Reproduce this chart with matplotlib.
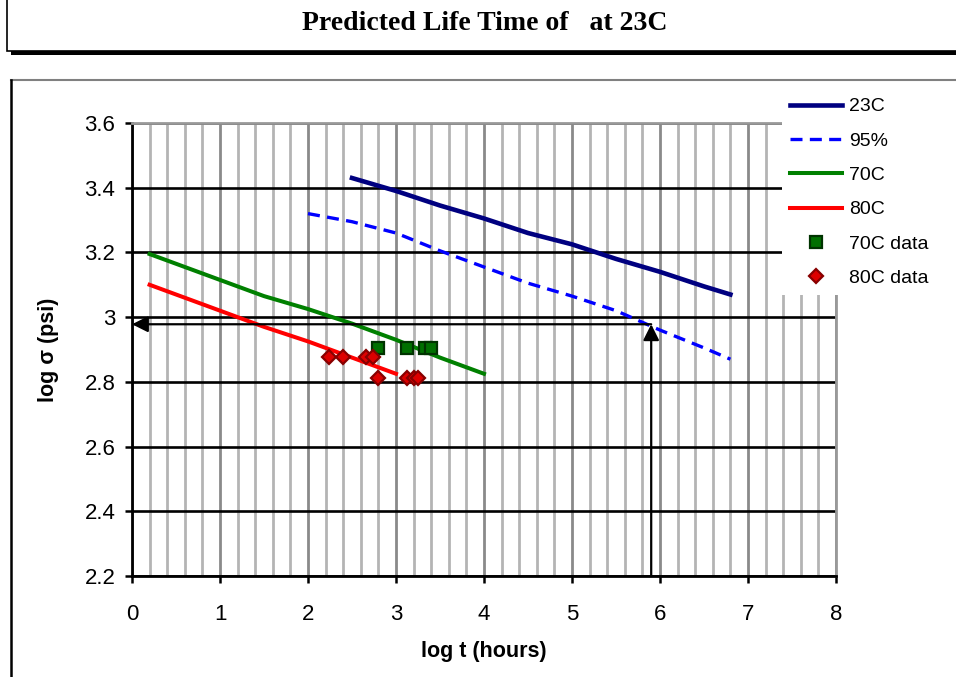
import matplotlib
matplotlib.use("Agg")
import matplotlib.pyplot as plt
from matplotlib.lines import Line2D
from matplotlib.patches import Rectangle
from matplotlib.ticker import MultipleLocator, FuncFormatter

# ---- data ----
t_23c = [2.5, 3.0, 3.5, 4.0, 4.5, 5.0, 5.5, 6.0, 6.5, 6.8]
s_23c = [3.43, 3.39, 3.345, 3.305, 3.26, 3.225, 3.18, 3.14, 3.095, 3.07]

t_95 = [2.0, 2.5, 3.0, 3.5, 4.0, 4.5, 5.0, 5.5, 6.0, 6.5, 6.8]
s_95 = [3.32, 3.295, 3.26, 3.205, 3.155, 3.105, 3.065, 3.02, 2.96, 2.905, 2.87]

t_70c = [0.2, 0.5, 1.0, 1.5, 2.0, 2.5, 3.0, 3.5, 4.0]
s_70c = [3.195, 3.165, 3.115, 3.065, 3.025, 2.98, 2.93, 2.875, 2.825]

t_80c = [0.2, 0.5, 1.0, 1.5, 2.0, 2.5, 3.0]
s_80c = [3.10, 3.07, 3.02, 2.97, 2.925, 2.875, 2.825]

t_70c_data = [2.80, 3.13, 3.33, 3.40]
s_70c_data = [2.905, 2.905, 2.905, 2.905]

t_80c_data = [2.24, 2.40, 2.66, 2.74, 2.79, 3.12, 3.20, 3.25]
s_80c_data = [2.878, 2.878, 2.878, 2.878, 2.813, 2.813, 2.813, 2.813]

# predicted point (95% line at log sigma ~ 2.98)
pred_t = 5.9
pred_s = 2.978

x_ticks = [0, 1, 2, 3, 4, 5, 6, 7, 8]
y_ticks = [2.2, 2.4, 2.6, 2.8, 3.0, 3.2, 3.4, 3.6]

W, H = 956, 677

def fx(px):
    return px / W

def fy(py):
    return 1 - py / H

fig = plt.figure(figsize=(W / 100, H / 100), dpi=100)
plt.rcParams['font.family'] = ['Liberation Sans', 'DejaVu Sans']

# title box with shadow
fig.add_artist(Rectangle((fx(11), fy(55)), fx(1000), fy(-10) - fy(55),
                         transform=fig.transFigure, facecolor='black', edgecolor='none'))
fig.add_artist(Rectangle((fx(7), fy(51)), fx(1000), fy(-10) - fy(51),
                         transform=fig.transFigure, facecolor='white', edgecolor='black', lw=1.2))
fig.text(fx(485), fy(23), 'Predicted Life Time of   at 23C', ha='center', va='center',
         fontsize=20, fontweight='bold', family=['Liberation Serif', 'DejaVu Serif'])

# chart area frame
fig.add_artist(Line2D([fx(11), fx(960)], [fy(80), fy(80)], transform=fig.transFigure,
                      color='#808080', lw=1.5))
fig.add_artist(Line2D([fx(11), fx(11)], [fy(80), fy(700)], transform=fig.transFigure,
                      color='black', lw=1.8))

ax = fig.add_axes([fx(132), fy(576), fx(836) - fx(132), fy(123) - fy(576)])
ax.set_xlim(0, 8)
ax.set_ylim(2.2, 3.6)
ax.set_xticks(x_ticks)
ax.set_yticks(y_ticks)
ax.xaxis.set_minor_locator(MultipleLocator(0.2))
ax.yaxis.set_major_formatter(FuncFormatter(lambda v, p: f'{v:g}'))
ax.tick_params(which='minor', length=0)
ax.tick_params(which='major', direction='out', length=5, width=1.8, labelsize=16)
ax.tick_params(axis='y', pad=7)
ax.tick_params(axis='x', pad=15)

ax.set_axisbelow(True)
ax.grid(axis='x', which='minor', color='#b4b4b4', lw=2)
ax.grid(axis='x', which='major', color='#8a8a8a', lw=2)
ax.grid(axis='y', which='major', color='black', lw=1.9)

for side in ['left', 'bottom']:
    ax.spines[side].set_color('black')
    ax.spines[side].set_linewidth(2)
for side in ['top', 'right']:
    ax.spines[side].set_color('#999999')
    ax.spines[side].set_linewidth(2)

ax.plot(t_23c, s_23c, color='#000080', lw=3.3, label='23C', zorder=4)
ax.plot(t_95, s_95, color='#0000ff', lw=2.4, ls=(0, (3.6, 2.2)), label='95%', zorder=4)
ax.plot(t_70c, s_70c, color='#008000', lw=2.9, label='70C', zorder=4)
ax.plot(t_80c, s_80c, color='#ff0000', lw=2.9, label='80C', zorder=4)
ax.plot(t_70c_data, s_70c_data, ls='none', marker='s', ms=8.5, mfc='#007000', mec='#003300',
        mew=1.6, label='70C data', zorder=5)
ax.plot(t_80c_data, s_80c_data, ls='none', marker='D', ms=7.5, mfc='#dd0000', mec='#880000',
        mew=1.6, label='80C data', zorder=5)

# arrows to the predicted life time
ax.annotate('', xy=(0, pred_s), xytext=(pred_t, pred_s),
            arrowprops=dict(arrowstyle='-|>', color='black', lw=1.6, mutation_scale=24,
                            shrinkA=0, shrinkB=0), zorder=6)
ax.annotate('', xy=(pred_t, pred_s), xytext=(pred_t, 2.2),
            arrowprops=dict(arrowstyle='-|>', color='black', lw=1.6, mutation_scale=24,
                            shrinkA=0, shrinkB=0), zorder=6)

ax.set_xlabel('log t (hours)', fontsize=15.5, fontweight='bold', labelpad=12)
ax.set_ylabel('log σ (psi)', fontsize=15.5, fontweight='bold', labelpad=18)

leg = ax.legend(loc='upper left', bbox_to_anchor=(fx(782), fy(90)), bbox_transform=fig.transFigure,
                fontsize=14, frameon=True, fancybox=False, edgecolor='none', facecolor='white',
                framealpha=1, handlelength=2.7, handletextpad=0.35, labelspacing=0.86,
                borderpad=0.4, borderaxespad=0)
leg.set_zorder(10)

fig.savefig('out.png', dpi=100)
